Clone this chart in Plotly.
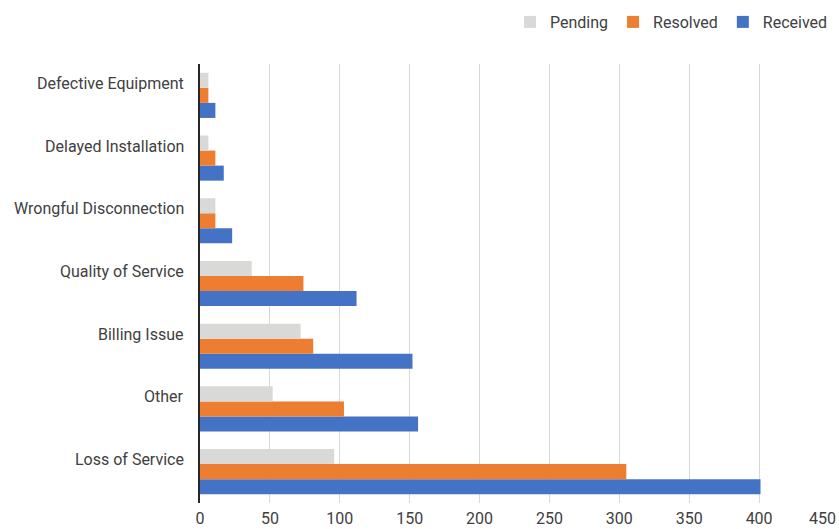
import plotly.graph_objects as go

categories = ["Loss of Service", "Other", "Billing Issue", "Quality of Service",
              "Wrongful Disconnection", "Delayed Installation", "Defective Equipment"]
received = [401, 156, 152, 112, 23, 17, 11]
resolved = [305, 103, 81, 74, 11, 11, 6]
pending = [96, 52, 72, 37, 11, 6, 6]
x_ticks = [0, 50, 100, 150, 200, 250, 300, 350, 400, 450]
x_tick_labels = [str(v) for v in x_ticks]

font_family = "Roboto, 'Open Sans', sans-serif"
text_color = "#404040"

fig = go.Figure()
fig.add_trace(go.Bar(y=categories, x=received, name="Received", orientation="h",
                     marker=dict(color="#4472C4", line=dict(width=0))))
fig.add_trace(go.Bar(y=categories, x=resolved, name="Resolved", orientation="h",
                     marker=dict(color="#ED7D31", line=dict(width=0))))
fig.add_trace(go.Bar(y=categories, x=pending, name="Pending", orientation="h",
                     marker=dict(color="#D9D9D7", line=dict(width=0))))

for c in categories:
    fig.add_annotation(x=0, xref="paper", y=c, yref="y", text=c, showarrow=False,
                       xanchor="right", xshift=-14, yshift=12,
                       font=dict(family=font_family, size=16, color=text_color))

# last tick label sits flush with the right edge (as in the reference)
fig.add_annotation(x=x_ticks[-1], xref="x", y=0, yref="paper", text=x_tick_labels[-1],
                   showarrow=False, xanchor="right", yanchor="top", xshift=9, yshift=-4,
                   font=dict(family=font_family, size=16, color=text_color))

fig.update_layout(
    width=839, height=529,
    margin=dict(l=200, r=10, t=64, b=26, autoexpand=False),
    paper_bgcolor="white", plot_bgcolor="white",
    barmode="group", bargap=0.28, bargroupgap=0,
    font=dict(family=font_family, size=16, color=text_color),
    legend=dict(orientation="h", x=1 - 6 / 839, xanchor="right", xref="container",
                y=1 - 22 / 529, yanchor="middle", yref="container",
                traceorder="reversed", font=dict(size=16, color=text_color),
                itemwidth=30),
    xaxis=dict(range=[0, 450], tickvals=x_ticks, ticktext=x_tick_labels[:-1] + [""],
               showgrid=True, gridcolor="#D9D9D9",
               gridwidth=1, zeroline=False, showline=False, ticks="",
               automargin=False, ticklabeloverflow="allow", ticklabelstandoff=4,
               tickfont=dict(size=16, color=text_color)),
    yaxis=dict(showticklabels=False, showgrid=False, showline=True, automargin=False,
               linecolor="#262626", linewidth=2, ticks="", zeroline=False),
)

fig.write_html("out.html", config={"displayModeBar": False},
               post_script="document.body.style.margin='0';")
